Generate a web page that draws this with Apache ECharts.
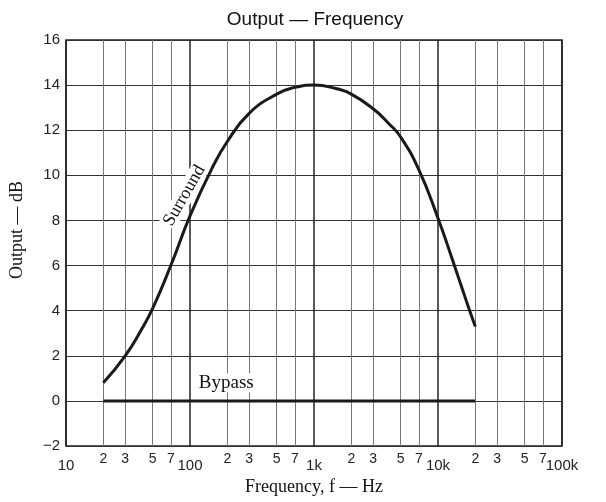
<!DOCTYPE html>
<html>
<head>
    <meta charset="UTF-8">
    <title>Output — Frequency</title>
    <script src="https://cdn.jsdelivr.net/npm/echarts@6/dist/echarts.min.js"></script>
</head>
<body style="margin:0;background:#fff;">
<div id="main" style="width: 606px;height:502px;"></div>
<script type="text/javascript">
    // data
    var surroundFreq = [20, 30, 40, 50, 70, 100, 150, 200, 300, 500, 700, 1000, 1500, 2000, 3000, 4000, 5000, 7000, 10000, 13000, 17000, 20000];
    var surroundDb = [0.8, 2.0, 3.1, 4.1, 6.0, 8.2, 10.3, 11.5, 12.75, 13.6, 13.9, 14.0, 13.85, 13.6, 12.95, 12.3, 11.7, 10.25, 8.1, 6.3, 4.4, 3.3];
    var bypassFreq = [20, 20000];
    var bypassDb = [0, 0];
    var minorTicks = [20, 30, 50, 70, 200, 300, 500, 700, 2000, 3000, 5000, 7000, 20000, 30000, 50000, 70000];

    function decadeName(v) {
        if (v >= 1000) return (v / 1000) + 'k';
        return '' + v;
    }
    function minorName(v) {
        var p = Math.pow(10, Math.floor(Math.log10(v) + 1e-9));
        return '' + Math.round(v / p);
    }
    function pairs(xs, ys) {
        return xs.map(function (x, i) { return [x, ys[i]]; });
    }

    var myChart = echarts.init(document.getElementById('main'));

    var option = {
        backgroundColor: '#fff',
        animation: false,
        title: {
            text: 'Output — Frequency',
            left: 310,
            textAlign: 'center',
            top: 5,
            textStyle: {fontFamily: 'Liberation Sans', fontSize: 19, fontWeight: 'normal', color: '#111'}
        },
        grid: {
            left: 64, right: 44, top: 40, bottom: 56,
            show: true, borderColor: '#222', borderWidth: 1.5
        },
        xAxis: [
            {
                type: 'log', logBase: 10, min: 10, max: 100000,
                name: 'Frequency, f — Hz', nameLocation: 'middle', nameGap: 27,
                nameTextStyle: {fontFamily: 'Liberation Serif', fontSize: 18, color: '#111'},
                axisLine: {show: false},
                axisTick: {show: false},
                axisLabel: {
                    margin: 12, fontFamily: 'Liberation Sans', fontSize: 15, color: '#222',
                    formatter: function (v) { return decadeName(v); }
                },
                splitLine: {show: true, lineStyle: {color: '#222', width: 1.5}}
            },
            {
                type: 'log', logBase: 10, min: 10, max: 100000, position: 'bottom',
                axisLine: {show: false},
                axisTick: {show: false, customValues: minorTicks},
                axisLabel: {
                    customValues: minorTicks,
                    margin: 6, fontFamily: 'Liberation Sans', fontSize: 14, color: '#222',
                    formatter: function (v) { return minorName(v); }
                },
                splitLine: {show: true, lineStyle: {color: '#777', width: 1}}
            }
        ],
        yAxis: {
            type: 'value', min: -2, max: 16, interval: 2,
            name: 'Output — dB', nameLocation: 'middle', nameGap: 40,
            nameTextStyle: {fontFamily: 'Liberation Serif', fontSize: 18, color: '#111', padding: [0, 0, 0, 26]},
            axisLine: {show: false},
            axisTick: {show: false},
            axisLabel: {
                margin: 6, fontFamily: 'Liberation Sans', fontSize: 15, color: '#222',
                formatter: function (v) { return String(v).replace('-', '\u2212'); }
            },
            splitLine: {show: true, lineStyle: {color: '#333', width: 1}}
        },
        series: [
            {
                name: 'Surround', type: 'line', xAxisIndex: 0,
                data: pairs(surroundFreq, surroundDb),
                smooth: 0.5, symbol: 'none',
                lineStyle: {color: '#1a1a1a', width: 3},
                markPoint: {
                    symbol: 'circle', symbolSize: 0,
                    data: [{coord: [90, 9.1]}],
                    label: {
                        show: true, formatter: 'Surround', rotate: 60,
                        fontFamily: 'Liberation Serif', fontSize: 18, color: '#111',
                        backgroundColor: '#fff', padding: [0, 1]
                    }
                }
            },
            {
                name: 'Bypass', type: 'line', xAxisIndex: 0,
                data: pairs(bypassFreq, bypassDb),
                symbol: 'none',
                lineStyle: {color: '#1a1a1a', width: 3},
                markPoint: {
                    symbol: 'circle', symbolSize: 0,
                    data: [{coord: [196, 0.8]}],
                    label: {
                        show: true, formatter: 'Bypass',
                        fontFamily: 'Liberation Serif', fontSize: 19, color: '#111',
                        backgroundColor: '#fff', padding: [0, 2]
                    }
                }
            }
        ]
    };

    myChart.setOption(option);
</script>
</body>
</html>
